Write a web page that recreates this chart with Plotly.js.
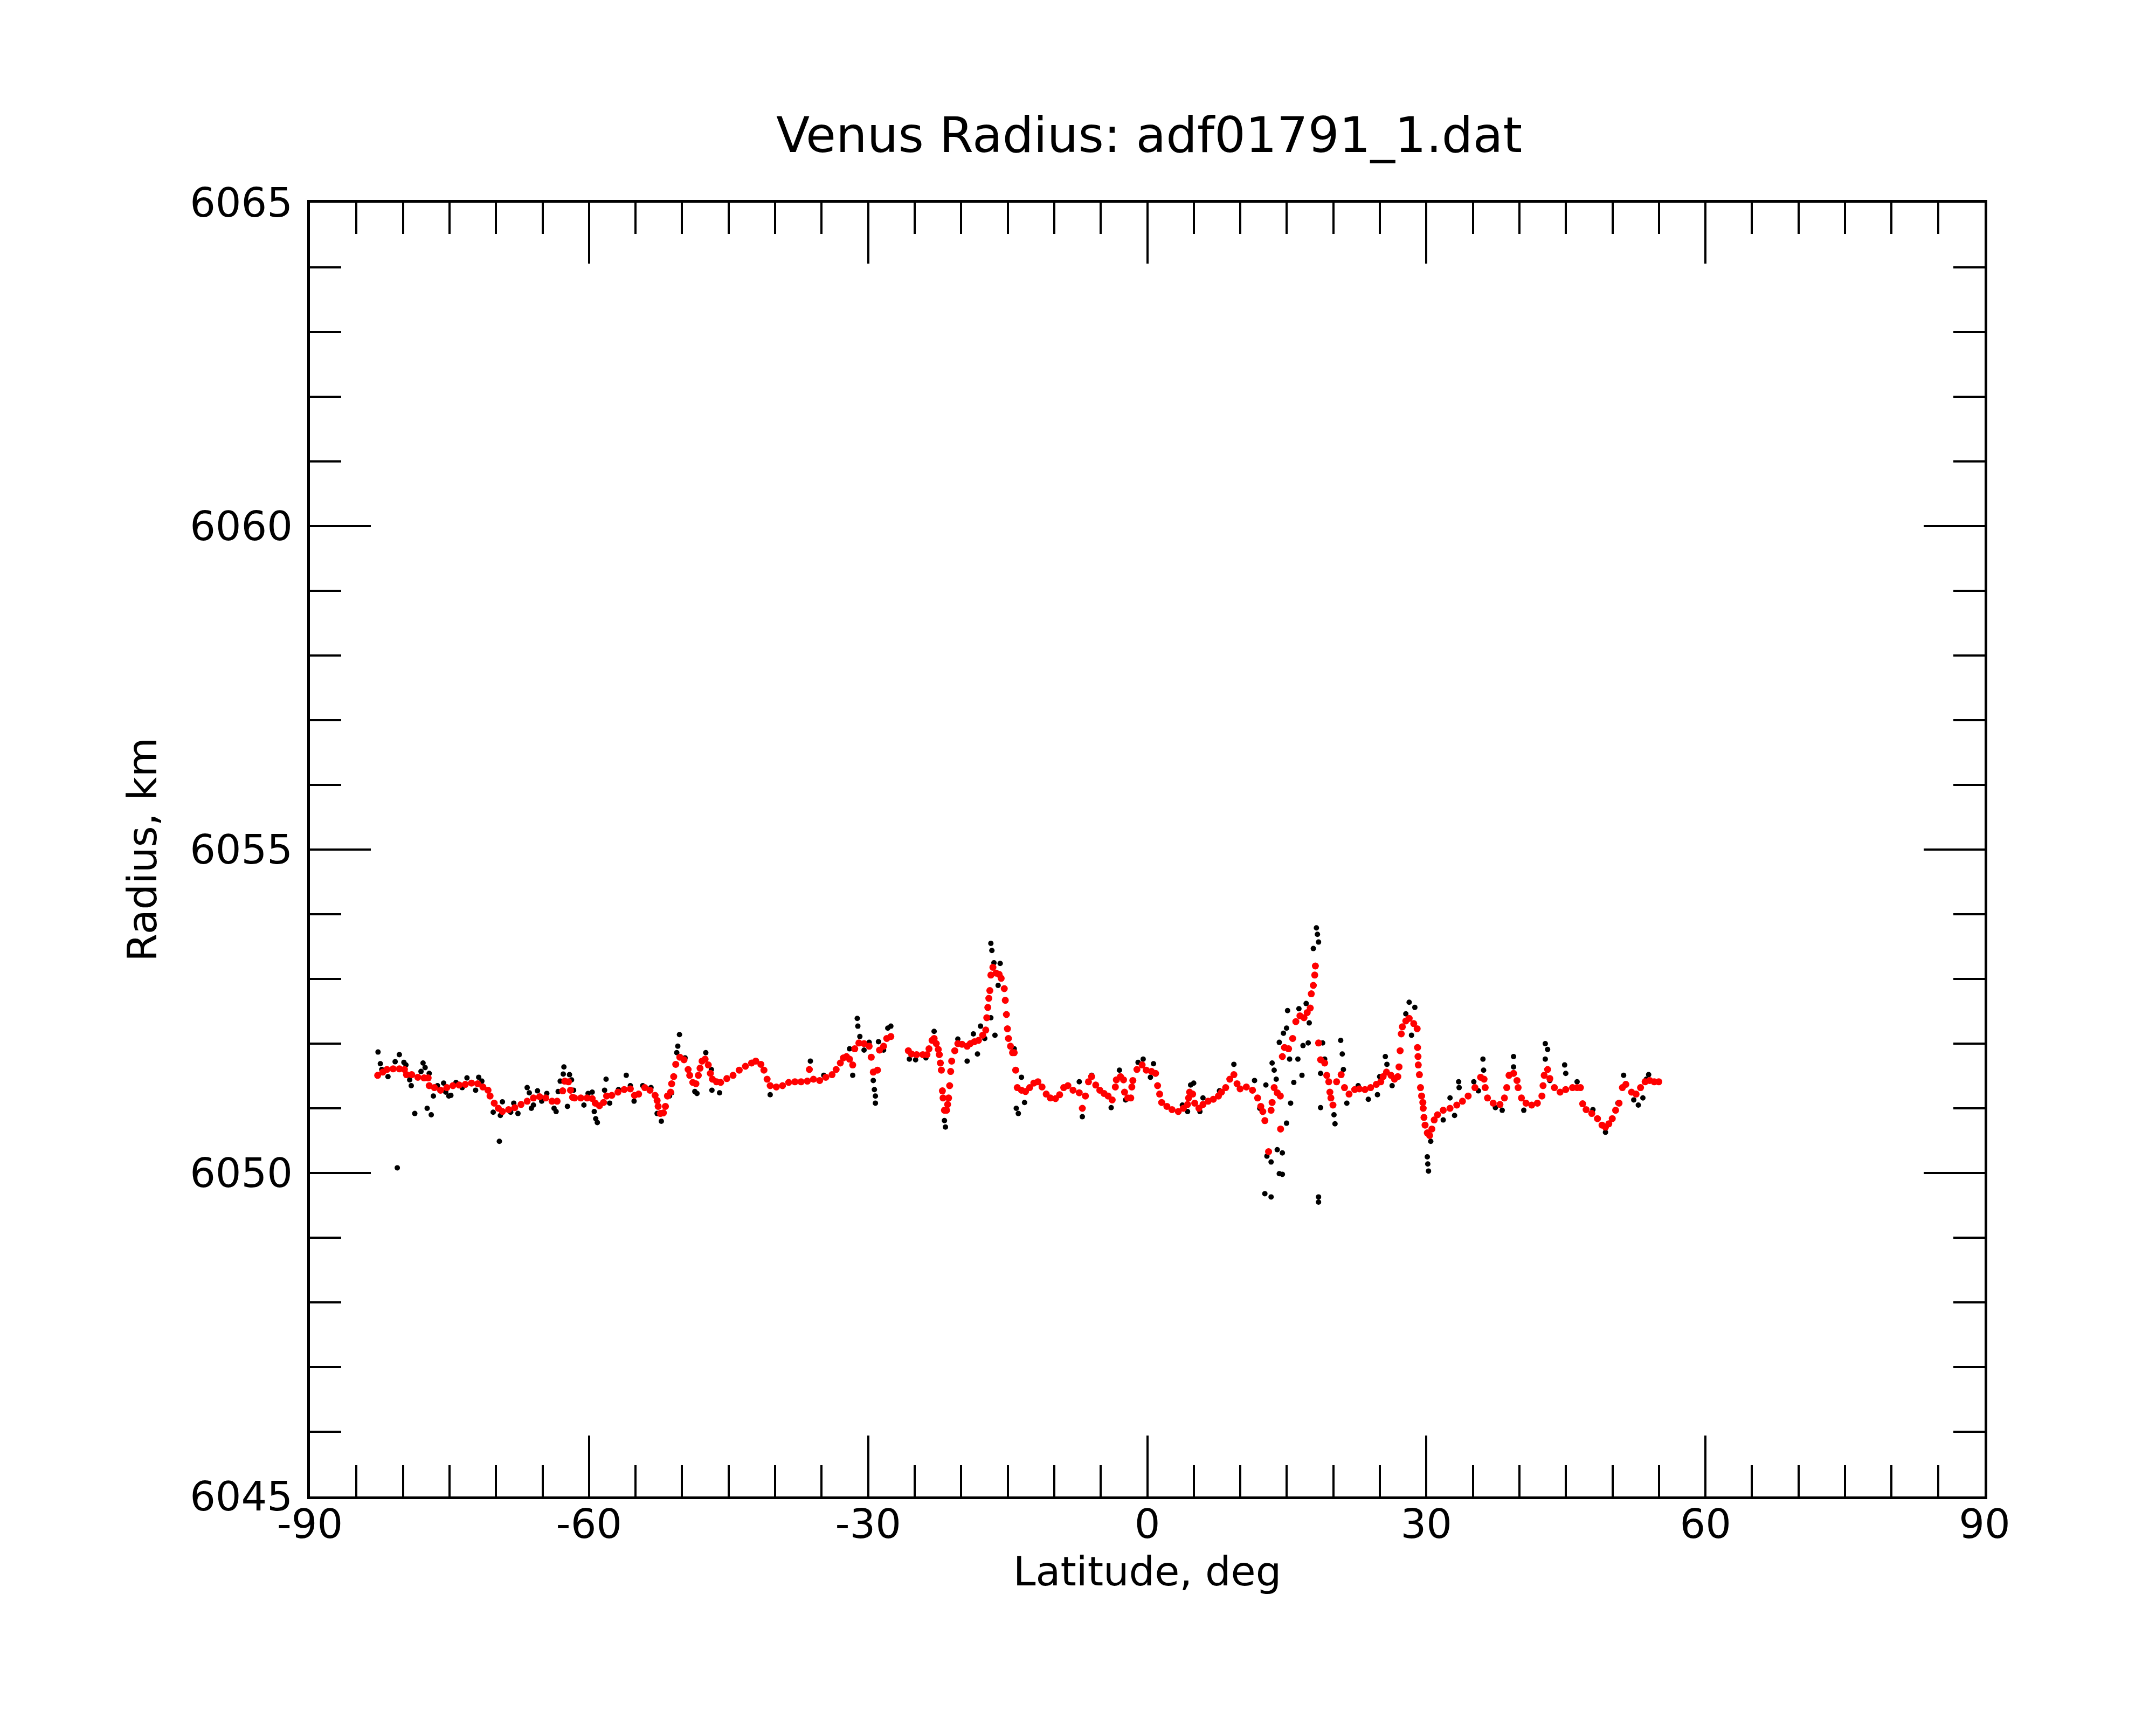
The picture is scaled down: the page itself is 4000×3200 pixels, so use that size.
<!DOCTYPE html>
<html>
<head>
<meta charset="utf-8">
<script src="https://cdn.plot.ly/plotly-3.0.1.min.js"></script>
<style>
  html, body { margin: 0; padding: 0; background: #fff; }
  #chart { width: 4000px; height: 3200px; }
</style>
</head>
<body>
<div id="chart"></div>
<script>
// raw radius samples (black)
var rawLat = [
  -82.68, -82.43, -82.28, -81.61, -80.84, -80.39, -80.61,
  -79.90, -79.68, -79.28, -79.11, -78.73, -78.06, -77.84,
  -77.62, -77.40, -77.18, -76.96, -76.73, -76.29, -75.63,
  -75.40, -75.07, -74.85, -74.30, -73.63, -73.12, -72.19,
  -71.86, -71.52, -70.30, -69.64, -69.53, -69.31, -68.42,
  -68.09, -67.64, -66.65, -66.42, -66.20, -65.98, -65.54,
  -65.09, -64.54, -63.76, -63.54, -63.32, -63.10, -62.77,
  -62.70, -62.32, -62.10, -61.88, -61.66, -60.55, -60.10,
  -59.66, -59.44, -59.28, -59.11, -58.33, -58.17, -57.78,
  -56.84, -56.00, -55.56, -55.16, -54.23, -53.34, -52.68,
  -52.23, -51.35, -51.12, -50.57, -50.46, -50.28, -49.68,
  -48.63, -48.40, -47.45, -46.85, -46.79, -45.97, -40.53,
  -36.21, -34.77, -32.00, -31.66, -31.17, -31.11, -30.89,
  -30.44, -29.89, -29.45, -29.33, -29.22, -29.22, -28.89,
  -28.34, -27.89, -27.56, -25.57, -24.90, -23.79, -22.91,
  -21.80, -21.69, -20.36, -19.36, -18.69, -18.25, -17.92,
  -17.47, -16.81, -16.70, -16.48, -15.81, -16.03, -16.37,
  -16.81,
  -14.30, -14.08, -13.86, -13.52, -13.19, -7.31, -6.98,
  -5.98, -3.88, -2.99, -2.33, -0.99, -0.44, 0.34,
  0.67, 3.77, 4.33, 4.66, 4.99, 5.66, 5.99,
  7.76, 9.31, 11.53, 12.09, 12.75, 12.86, 12.64,
  13.31, 13.31, 13.42, 13.64, 13.86, 13.97, 14.52,
  14.19, 14.52, 14.19, 14.64, 14.97, 14.97, 15.08,
  15.30, 15.41, 15.75, 16.19, 16.30, 16.63, 16.74,
  17.08, 17.30, 17.41, 17.85, 18.18, 18.29, 18.41,
  18.41, 18.41, 18.63, 18.63, 18.85, 19.07, 20.07,
  20.18,
  20.79, 20.96, 21.08, 21.45, 22.67, 23.76, 24.74,
  24.98, 25.59, 25.76, 26.32, 27.79, 28.15, 28.76,
  28.40, 30.10, 30.15, 30.23, 30.47, 31.81, 32.54,
  33.03, 33.47, 33.52, 35.10, 35.59, 36.08, 36.15,
  37.42, 38.15, 39.37, 39.37, 40.47, 42.78, 43.03,
  42.78, 43.27, 44.86, 44.98, 46.20, 47.90, 49.25,
  50.59, 51.20, 52.29, 52.78, 53.27, 53.64, 53.89
];
var rawRad = [
  6051.87, 6051.69, 6051.60, 6051.49, 6051.72, 6051.83, 6050.08,
  6051.71, 6051.67, 6051.44, 6051.35, 6050.92, 6051.57, 6051.70,
  6051.63, 6051.00, 6051.54, 6050.90, 6051.19, 6051.35, 6051.39,
  6051.25, 6051.19, 6051.20, 6051.40, 6051.32, 6051.47, 6051.28,
  6051.48, 6051.42, 6050.94, 6050.49, 6050.89, 6051.10, 6050.94,
  6051.08, 6050.92, 6051.32, 6051.24, 6051.00, 6051.05, 6051.27,
  6051.11, 6051.23, 6051.00, 6050.95, 6051.26, 6051.42, 6051.53,
  6051.64, 6051.03, 6051.52, 6051.44, 6051.28, 6051.05, 6051.23,
  6051.25, 6050.95, 6050.84, 6050.78, 6051.28, 6051.45, 6051.08,
  6051.29, 6051.51, 6051.35, 6051.11, 6051.35, 6051.32, 6050.92,
  6050.80, 6051.19, 6051.24, 6051.86, 6051.96, 6052.14, 6051.78,
  6051.26, 6051.23, 6051.86, 6051.60, 6051.28, 6051.24, 6051.21,
  6051.73, 6051.51, 6051.92, 6051.51, 6052.39, 6052.27, 6052.11,
  6051.90, 6052.02, 6051.43, 6051.29, 6051.19, 6051.08, 6052.03,
  6051.90, 6052.24, 6052.27, 6051.76, 6051.75, 6051.78, 6052.19,
  6050.81, 6050.71, 6052.07, 6051.73, 6052.15, 6051.84, 6052.27,
  6052.08, 6053.55, 6053.44, 6053.25, 6053.24, 6052.90, 6052.13,
  6052.40,
  6051.92, 6051.00, 6050.92, 6051.48, 6051.09, 6051.41, 6050.87,
  6051.51, 6051.01, 6051.59, 6051.13, 6051.71, 6051.76, 6051.48,
  6051.69, 6051.05, 6050.95, 6051.36, 6051.39, 6050.95, 6051.16,
  6051.27, 6051.68, 6051.43, 6051.00, 6051.36, 6050.26, 6049.68,
  6049.63, 6050.17, 6051.70, 6051.59, 6051.45, 6050.36, 6050.31,
  6049.99, 6049.98, 6052.02, 6052.16, 6052.24, 6050.77, 6052.51,
  6051.76, 6051.08, 6051.40, 6051.76, 6052.54, 6051.51, 6051.97,
  6052.62, 6052.01, 6052.32, 6053.47, 6053.79, 6053.69, 6053.57,
  6049.63, 6049.55, 6051.54, 6051.01, 6052.01, 6051.76, 6050.90,
  6050.76,
  6052.05, 6051.84, 6051.60, 6051.08, 6051.35, 6051.14, 6051.21,
  6051.49, 6051.80, 6051.68, 6051.35, 6052.46, 6052.64, 6052.56,
  6052.13, 6050.25, 6050.14, 6050.03, 6050.49, 6050.82, 6051.16,
  6050.89, 6051.41, 6051.32, 6051.41, 6051.27, 6051.76, 6051.59,
  6051.01, 6050.97, 6051.80, 6051.64, 6050.97, 6052.00, 6051.91,
  6051.76, 6051.43, 6051.67, 6051.54, 6051.41, 6050.98, 6050.63,
  6051.08, 6051.51, 6051.13, 6051.05, 6051.16, 6051.45, 6051.52
];

// smoothed radius (red)
var fitLat = [
  -82.72, -82.17, -81.72, -81.06, -80.39, -79.84, -79.62, -79.06, -78.40, -77.73,
  -77.29, -77.18, -76.62, -75.96, -75.29, -74.63, -73.96, -73.30, -72.63, -71.97,
  -71.41, -70.86, -70.64, -70.19, -69.75, -69.31, -68.64, -67.98, -67.31, -66.65,
  -65.98, -65.31, -64.65, -63.98, -63.43, -62.83, -62.61, -62.21, -61.99, -61.77,
  -61.55, -60.88, -60.21, -59.66, -59.33, -58.88, -58.44, -58.11, -57.55, -56.89,
  -56.22, -55.56, -55.12, -54.67, -54.01, -53.45, -52.90, -52.68, -52.57, -52.34,
  -52.01, -51.79, -51.57, -51.23, -51.12, -50.90, -50.68, -50.24, -49.79, -49.35,
  -49.18, -48.85, -48.51, -48.25, -48.07, -47.85, -47.52, -47.18, -46.96, -46.74,
  -46.30, -45.85, -45.19, -44.52, -43.86, -43.19, -42.53, -42.08, -41.53, -41.20,
  -40.86, -40.53, -39.87, -39.20, -38.54, -37.87, -37.21, -36.54, -36.32, -35.88,
  -35.21, -34.55, -33.88, -33.44, -32.99, -32.66, -32.33, -32.00, -31.66, -31.44,
  -31.00, -30.44, -29.89, -29.67, -29.45, -29.00, -28.78, -28.34, -28.00, -27.56,
  -25.68, -25.34, -24.79, -24.12, -23.68, -23.46, -23.13, -22.91, -22.68, -22.46,
  -22.35, -22.24, -22.13, -22.02, -21.95, -21.80, -21.57, -21.46, -21.35, -21.24,
  -21.13, -21.02, -20.69, -20.36, -19.91, -19.36, -19.02, -18.58, -18.14, -17.69,
  -17.36, -17.25, -17.14, -17.03, -16.92, -16.81, -16.59, -16.25, -15.92, -15.70,
  -15.37, -15.26, -15.14, -15.03, -14.92, -14.70, -14.48,
  -14.30, -14.14, -13.97, -13.52, -13.08, -12.64, -12.19, -11.75, -11.31, -10.86,
  -10.42, -9.86, -9.42, -8.98, -8.53, -7.98, -7.31, -6.98, -6.65, -6.32,
  -5.98, -5.54, -5.10, -4.65, -4.21, -3.77, -3.43, -3.32, -2.88, -2.55,
  -2.44, -2.10, -1.77, -1.66, -1.55, -1.11, -0.55, -0.11, 0.45, 0.89,
  1.11, 1.33, 1.55, 2.11, 2.66, 3.33, 3.88, 4.33, 4.44, 4.55,
  4.88, 5.10, 5.55, 5.99, 6.54, 7.10, 7.65, 7.98, 8.43, 8.87,
  9.31, 9.65, 9.98, 10.65, 11.31, 11.86, 12.20, 12.42, 12.64, 13.04,
  13.31, 13.42, 13.64, 13.97, 14.30, 14.33, 14.52, 14.75, 15.19, 15.63,
  15.97, 16.41, 16.85, 17.19, 17.52, 17.63, 17.85, 18.00, 18.07, 18.41,
  18.63, 19.07, 19.29, 19.51, 19.63, 19.74, 19.96,
  20.35, 20.84, 21.20, 21.69, 22.30, 22.79, 23.40, 24.01, 24.62, 25.10,
  25.35, 25.71, 26.20, 26.57, 26.93, 27.06, 27.18, 27.30, 27.42, 27.79,
  28.15, 28.64, 29.01, 29.05, 29.10, 29.13, 29.25, 29.37, 29.49, 29.62,
  29.66, 29.74, 29.86, 30.10, 30.35, 30.59, 30.84, 31.20, 31.81, 32.54,
  33.27, 33.88, 34.49, 35.22, 35.83, 36.20, 36.32, 36.57, 37.18, 37.91,
  38.39, 38.64, 38.88, 39.37, 39.74, 39.86, 40.22, 40.71, 41.32, 41.93,
  42.42, 42.54, 42.66, 43.03, 43.27, 43.76, 44.37, 44.98, 45.71, 46.20,
  46.56, 46.80, 47.17, 47.78, 48.39, 48.88, 49.25, 49.61, 49.98, 50.34,
  50.71, 51.07, 51.44, 52.05, 52.54, 53.02, 53.51, 54.00, 54.49, 54.98
];
var fitRad = [
  6051.51, 6051.56, 6051.60, 6051.61, 6051.61, 6051.60, 6051.52, 6051.52, 6051.48, 6051.47,
  6051.47, 6051.35, 6051.32, 6051.28, 6051.32, 6051.35, 6051.36, 6051.37, 6051.39, 6051.38,
  6051.33, 6051.28, 6051.19, 6051.08, 6051.00, 6050.95, 6050.98, 6051.01, 6051.06, 6051.11,
  6051.16, 6051.18, 6051.16, 6051.11, 6051.11, 6051.27, 6051.42, 6051.41, 6051.28, 6051.17,
  6051.16, 6051.16, 6051.16, 6051.15, 6051.08, 6051.04, 6051.09, 6051.19, 6051.20, 6051.25,
  6051.29, 6051.30, 6051.20, 6051.22, 6051.32, 6051.28, 6051.20, 6051.12, 6051.03, 6050.92,
  6050.93, 6051.03, 6051.19, 6051.25, 6051.38, 6051.49, 6051.68, 6051.79, 6051.75, 6051.60,
  6051.51, 6051.40, 6051.38, 6051.51, 6051.62, 6051.73, 6051.76, 6051.67, 6051.54, 6051.45,
  6051.41, 6051.40, 6051.46, 6051.51, 6051.59, 6051.65, 6051.70, 6051.73, 6051.68, 6051.59,
  6051.45, 6051.35, 6051.33, 6051.35, 6051.40, 6051.41, 6051.41, 6051.42, 6051.60, 6051.45,
  6051.43, 6051.48, 6051.52, 6051.60, 6051.70, 6051.78, 6051.80, 6051.76, 6051.67, 6051.92,
  6052.01, 6052.00, 6051.96, 6051.79, 6051.56, 6051.59, 6051.90, 6051.96, 6052.08, 6052.11,
  6051.89, 6051.84, 6051.83, 6051.83, 6051.83, 6051.92, 6052.05, 6052.08, 6052.00, 6051.91,
  6051.83, 6051.70, 6051.59, 6051.27, 6051.16, 6050.97, 6050.97, 6051.06, 6051.16, 6051.35,
  6051.57, 6051.73, 6051.89, 6052.00, 6051.99, 6051.96, 6052.00, 6052.03, 6052.05, 6052.13,
  6052.21, 6052.40, 6052.56, 6052.70, 6052.82, 6053.06, 6053.18, 6053.09, 6053.07, 6053.01,
  6052.85, 6052.67, 6052.45, 6052.23, 6052.08, 6051.96, 6051.86,
  6051.86, 6051.59, 6051.32, 6051.28, 6051.26, 6051.32, 6051.39, 6051.41, 6051.33, 6051.22,
  6051.16, 6051.15, 6051.21, 6051.32, 6051.35, 6051.28, 6051.24, 6051.00, 6051.19, 6051.41,
  6051.49, 6051.36, 6051.28, 6051.23, 6051.19, 6051.13, 6051.33, 6051.44, 6051.49, 6051.44,
  6051.25, 6051.16, 6051.16, 6051.33, 6051.43, 6051.60, 6051.67, 6051.59, 6051.57, 6051.54,
  6051.35, 6051.22, 6051.09, 6051.03, 6050.98, 6050.95, 6051.00, 6051.06, 6051.16, 6051.25,
  6051.22, 6051.08, 6051.00, 6051.06, 6051.11, 6051.14, 6051.19, 6051.25, 6051.32, 6051.45,
  6051.52, 6051.38, 6051.30, 6051.33, 6051.28, 6051.16, 6051.03, 6050.95, 6050.81, 6050.33,
  6050.97, 6051.09, 6051.32, 6051.24, 6051.19, 6050.68, 6051.80, 6051.94, 6051.92, 6052.08,
  6052.34, 6052.43, 6052.40, 6052.48, 6052.55, 6052.77, 6052.90, 6053.06, 6053.20, 6052.01,
  6051.75, 6051.70, 6051.51, 6051.41, 6051.25, 6051.16, 6051.05,
  6051.41, 6051.52, 6051.32, 6051.22, 6051.29, 6051.30, 6051.29, 6051.32, 6051.37, 6051.41,
  6051.49, 6051.56, 6051.51, 6051.45, 6051.49, 6051.64, 6051.89, 6052.15, 6052.26, 6052.35,
  6052.39, 6052.31, 6052.23, 6051.94, 6051.80, 6051.67, 6051.52, 6051.32, 6051.19, 6051.09,
  6051.00, 6050.86, 6050.74, 6050.62, 6050.58, 6050.68, 6050.82, 6050.90, 6050.97, 6051.00,
  6051.05, 6051.11, 6051.19, 6051.32, 6051.48, 6051.45, 6051.32, 6051.16, 6051.08, 6051.06,
  6051.16, 6051.32, 6051.51, 6051.54, 6051.43, 6051.32, 6051.16, 6051.08, 6051.05, 6051.08,
  6051.19, 6051.35, 6051.51, 6051.60, 6051.46, 6051.32, 6051.25, 6051.29, 6051.32, 6051.32,
  6051.32, 6051.07, 6050.98, 6050.92, 6050.84, 6050.74, 6050.71, 6050.76, 6050.84, 6050.97,
  6051.08, 6051.32, 6051.37, 6051.25, 6051.22, 6051.32, 6051.41, 6051.43, 6051.41, 6051.41
];

var xTickVals = [-90, -60, -30, 0, 30, 60, 90];
var xTickText = ['-90', '-60', '-30', '0', '30', '60', '90'];
var yTickVals = [6045, 6050, 6055, 6060, 6065];
var yTickText = ['6045', '6050', '6055', '6060', '6065'];

var font = 'DejaVu Sans, Verdana, sans-serif';

var raw = {
  x: rawLat,
  y: rawRad,
  type: 'scatter',
  mode: 'markers',
  marker: {color: 'black', size: 10, line: {width: 0}},
  hoverinfo: 'x+y'
};

var fit = {
  x: fitLat,
  y: fitRad,
  type: 'scatter',
  mode: 'markers',
  marker: {color: 'red', size: 13, line: {width: 0}},
  hoverinfo: 'x+y'
};

var axisCommon = {
  showgrid: false,
  zeroline: false,
  showline: true,
  linecolor: 'black',
  linewidth: 5,
  mirror: 'ticks',
  ticks: 'inside',
  ticklen: 113,
  tickwidth: 4,
  tickcolor: 'black',
  tickfont: {family: font, size: 75, color: 'black'}
};

var layout = {
  width: 4000,
  height: 3200,
  margin: {l: 575, r: 318, t: 376, b: 424, pad: 0},
  paper_bgcolor: 'white',
  plot_bgcolor: 'white',
  showlegend: false,
  title: {
    text: 'Venus Radius: adf01791_1.dat',
    font: {family: font, size: 91, color: 'black'},
    x: 0.533, xanchor: 'center',
    y: 0.9219, yanchor: 'middle'
  },
  xaxis: Object.assign({}, axisCommon, {
    range: [-90, 90],
    tickmode: 'array',
    tickvals: xTickVals,
    ticktext: xTickText,
    ticklabelstandoff: -18,
    minor: {dtick: 5, tick0: -90, ticks: 'inside', ticklen: 58, tickwidth: 4, tickcolor: 'black'},
    title: {text: 'Latitude, deg', font: {family: font, size: 75, color: 'black'}, standoff: 13}
  }),
  yaxis: Object.assign({}, axisCommon, {
    range: [6045, 6065],
    tickmode: 'array',
    tickvals: yTickVals,
    ticktext: yTickText,
    ticklabelstandoff: 12,
    minor: {dtick: 1, tick0: 6045, ticks: 'inside', ticklen: 58, tickwidth: 4, tickcolor: 'black'},
    title: {text: 'Radius, km', font: {family: font, size: 75, color: 'black'}, standoff: 38}
  })
};

Plotly.newPlot('chart', [raw, fit], layout, {staticPlot: true});
</script>
</body>
</html>
